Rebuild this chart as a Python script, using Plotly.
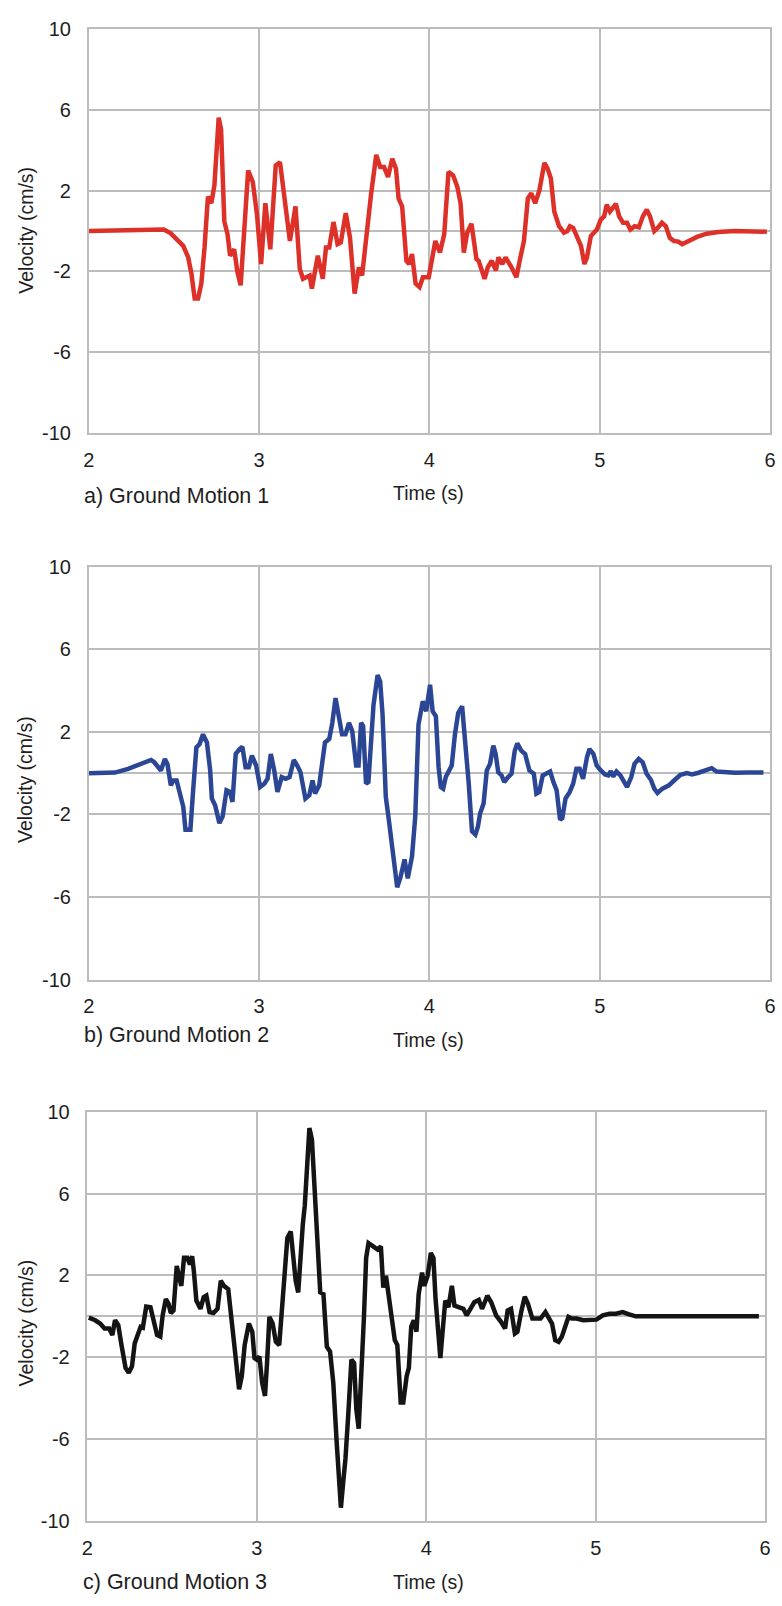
import plotly.graph_objects as go

W, H = 782, 1606

# ---------------- data ----------------
t1 = [2.0, 2.1, 2.2, 2.3, 2.38, 2.44, 2.48, 2.52, 2.555, 2.584, 2.603, 2.622, 2.642, 2.661, 2.68, 2.70,
      2.72, 2.738, 2.763, 2.777, 2.796, 2.815, 2.83, 2.854, 2.873, 2.892, 2.911, 2.936, 2.963, 2.988,
      3.012, 3.037, 3.066, 3.098, 3.123, 3.152, 3.181, 3.214, 3.239, 3.258, 3.297, 3.31, 3.345, 3.374,
      3.393, 3.412, 3.437, 3.461, 3.48, 3.509, 3.534, 3.561, 3.586, 3.605, 3.634, 3.657, 3.688, 3.711,
      3.734, 3.757, 3.782, 3.804, 3.819, 3.84, 3.865, 3.881, 3.898, 3.919, 3.942, 3.962, 3.996, 4.015,
      4.035, 4.062, 4.087, 4.112, 4.139, 4.164, 4.183, 4.202, 4.222, 4.247, 4.276, 4.289, 4.324, 4.343,
      4.366, 4.39, 4.405, 4.428, 4.447, 4.482, 4.511, 4.53, 4.555, 4.578, 4.598, 4.621, 4.646, 4.675,
      4.694, 4.713, 4.733, 4.761, 4.79, 4.81, 4.825, 4.844, 4.867, 4.89, 4.91, 4.925, 4.948, 4.983,
      5.006, 5.026, 5.041, 5.06, 5.076, 5.095, 5.114, 5.137, 5.16, 5.18, 5.205, 5.23, 5.253, 5.276,
      5.295, 5.32, 5.34, 5.365, 5.388, 5.411, 5.436, 5.461, 5.484, 5.523, 5.571, 5.628, 5.696, 5.792,
      5.889, 5.981]
v1 = [0.0, 0.02, 0.05, 0.1, 0.12, 0.08, -0.1, -0.4, -0.73, -1.30, -2.11, -3.34, -3.34, -2.6, -0.81, 1.71,
      1.38, 2.27, 5.61, 5.04, 0.49, -0.16, -1.22, -0.9, -2.03, -2.68, -0.16, 3.0, 2.44, 0.81,
      -1.63, 1.38, -0.9, 3.25, 3.41, 1.46, -0.49, 1.22, -1.87, -2.36, -2.2, -2.85, -1.22, -2.36,
      -0.81, -0.81, 0.45, -0.65, -0.57, 0.89, -0.33, -3.09, -1.79, -2.2, 0.32, 1.79, 3.77, 3.17,
      3.17, 2.68, 3.58, 3.09, 1.62, 1.22, -1.47, -1.63, -1.14, -2.6, -2.77, -2.28, -2.28, -1.47,
      -0.49, -1.06, -0.16, 2.93, 2.76, 2.19, 1.38, -1.06, -0.08, 0.36, -1.38, -1.47, -2.36, -1.79,
      -1.47, -1.95, -1.3, -1.63, -1.3, -1.79, -2.28, -1.47, -0.49, 1.62, 1.87, 1.38, 2.03, 3.38,
      3.09, 2.6, 0.97, 0.24, -0.08, 0.0, 0.24, 0.16, -0.33, -0.73, -1.63, -1.3, -0.24, 0.08,
      0.57, 0.73, 1.3, 0.97, 1.14, 1.35, 0.73, 0.41, 0.41, 0.08, 0.24, 0.19, 0.73, 1.06,
      0.73, 0.0, 0.16, 0.41, 0.24, -0.33, -0.49, -0.52, -0.65, -0.49, -0.29, -0.13, -0.05, 0.0,
      0.0, -0.03]

t2 = [2.0, 2.154, 2.231, 2.308, 2.366, 2.385, 2.405, 2.424, 2.447, 2.462, 2.482, 2.497, 2.516, 2.536,
      2.555, 2.568, 2.597, 2.613, 2.632, 2.651, 2.671, 2.694, 2.713, 2.723, 2.742, 2.767, 2.786, 2.809,
      2.829, 2.844, 2.863, 2.886, 2.902, 2.921, 2.94, 2.958, 2.983, 3.006, 3.031, 3.05, 3.069, 3.089,
      3.108, 3.133, 3.156, 3.179, 3.204, 3.224, 3.243, 3.272, 3.295, 3.314, 3.329, 3.353, 3.372, 3.387,
      3.412, 3.43, 3.449, 3.468, 3.487, 3.507, 3.528, 3.547, 3.57, 3.584, 3.599, 3.611, 3.628, 3.642,
      3.657, 3.672, 3.696, 3.711, 3.725, 3.744, 3.763, 3.782, 3.802, 3.811, 3.83, 3.854, 3.873, 3.898,
      3.917, 3.936, 3.961, 3.981, 4.004, 4.019, 4.038, 4.054, 4.067, 4.081, 4.096, 4.115, 4.131, 4.15,
      4.169, 4.192, 4.212, 4.231, 4.25, 4.27, 4.285, 4.298, 4.318, 4.337, 4.356, 4.375, 4.389, 4.404,
      4.424, 4.439, 4.462, 4.482, 4.501, 4.516, 4.539, 4.562, 4.587, 4.613, 4.628, 4.645, 4.665, 4.684,
      4.709, 4.728, 4.747, 4.767, 4.78, 4.799, 4.824, 4.844, 4.863, 4.882, 4.902, 4.925, 4.94, 4.963,
      4.982, 5.006, 5.031, 5.05, 5.065, 5.079, 5.098, 5.121, 5.14, 5.16, 5.185, 5.204, 5.229, 5.252,
      5.275, 5.3, 5.32, 5.339, 5.368, 5.406, 5.441, 5.474, 5.512, 5.541, 5.58, 5.618, 5.657, 5.686,
      5.734, 5.792, 5.869, 5.961]
v2 = [0.0, 0.03, 0.21, 0.45, 0.64, 0.53, 0.29, 0.13, 0.69, 0.45, -0.59, -0.35, -0.35, -0.91,
      -1.63, -2.74, -2.74, -0.83, 1.24, 1.41, 1.88, 1.49, 0.13, -1.23, -1.55, -2.42, -2.10, -0.83,
      -0.91, -1.39, 0.93, 1.17, 1.28, 0.29, 0.29, 0.85, 0.37, -0.67, -0.51, -0.27, 0.93, 0.13,
      -0.91, -0.19, -0.27, -0.19, 0.64, 0.37, 0.05, -1.23, -1.07, -0.35, -0.99, -0.59, 0.53, 1.49,
      1.65, 2.44, 3.64, 2.84, 1.88, 1.88, 2.44, 2.04, 0.37, 0.37, 2.44, 2.28, -0.51, -0.43,
      1.57, 3.32, 4.75, 4.44, 2.84, -1.15, -2.34, -3.7, -5.13, -5.53, -5.05, -4.18, -5.1, -4.02,
      -2.10, 2.36, 3.48, 3.0, 4.28, 3.0, 2.76, 0.29, -0.67, -0.75, -0.19, 0.13, 0.37, 1.88,
      2.92, 3.24, 1.57, -0.51, -2.82, -2.98, -2.58, -1.94, -1.47, 0.13, 0.45, 1.33, 0.93, 0.05,
      -0.11, -0.43, -0.19, -0.03, 1.09, 1.44, 1.09, 0.93, 0.13, -0.03, -0.99, -0.91, -0.11, -0.03,
      0.08, -0.43, -0.83, -2.26, -2.18, -1.23, -0.91, -0.51, 0.21, 0.21, -0.27, 0.77, 1.17, 0.93,
      0.37, 0.13, -0.06, -0.11, 0.1, -0.16, 0.08, -0.11, -0.43, -0.67, -0.19, 0.45, 0.69, 0.53,
      -0.03, -0.32, -0.75, -0.96, -0.75, -0.59, -0.32, -0.08, 0.0, -0.06, 0.02, 0.13, 0.24, 0.08,
      0.05, 0.02, 0.03, 0.03]

t3 = [2.008, 2.046, 2.075, 2.101, 2.128, 2.147, 2.163, 2.182, 2.201, 2.225, 2.244, 2.263, 2.279, 2.298,
      2.314, 2.327, 2.347, 2.372, 2.391, 2.411, 2.43, 2.444, 2.463, 2.479, 2.492, 2.508, 2.527, 2.541,
      2.554, 2.57, 2.589, 2.605, 2.618, 2.628, 2.643, 2.667, 2.686, 2.702, 2.721, 2.744, 2.768, 2.787,
      2.806, 2.831, 2.851, 2.87, 2.895, 2.911, 2.928, 2.953, 2.973, 2.986, 3.0, 3.015, 3.031, 3.048,
      3.06, 3.074, 3.093, 3.112, 3.132, 3.151, 3.167, 3.18, 3.2, 3.213, 3.229, 3.244, 3.258, 3.271,
      3.283, 3.296, 3.31, 3.325, 3.341, 3.36, 3.374, 3.393, 3.413, 3.432, 3.451, 3.471, 3.484, 3.496,
      3.51, 3.523, 3.539, 3.558, 3.574, 3.587, 3.601, 3.616, 3.632, 3.645, 3.659, 3.678, 3.698, 3.713,
      3.732, 3.746, 3.762, 3.775, 3.795, 3.814, 3.829, 3.849, 3.864, 3.884, 3.897, 3.911, 3.926, 3.942,
      3.955, 3.975, 3.988, 4.008, 4.027, 4.042, 4.054, 4.069, 4.083, 4.097, 4.112, 4.131, 4.151, 4.166,
      4.19, 4.219, 4.238, 4.257, 4.283, 4.31, 4.329, 4.345, 4.36, 4.383, 4.412, 4.441, 4.465, 4.48,
      4.5, 4.523, 4.538, 4.562, 4.581, 4.6, 4.626, 4.651, 4.674, 4.703, 4.722, 4.742, 4.761, 4.781,
      4.8, 4.82, 4.839, 4.858, 4.887, 4.926, 4.965, 5.004, 5.042, 5.081, 5.12, 5.159, 5.197, 5.236,
      5.314, 5.507, 5.701, 5.963]
v3 = [-0.06, -0.19, -0.35, -0.59, -0.59, -0.91, -0.19, -0.43, -1.4, -2.52, -2.76, -2.44, -1.32, -0.84,
      -0.51, -0.55, 0.48, 0.45, -0.19, -0.91, -0.99, 0.05, 0.85, 0.61, 0.16, 0.29, 2.46, 1.9,
      1.49, 2.86, 2.86, 2.54, 2.94, 2.22, 0.77, 0.37, 0.93, 1.01, 0.21, 0.16, 0.37, 1.74,
      1.49, 1.33, -0.03, -1.64, -3.56, -2.92, -1.4, -0.35, -0.75, -2.04, -2.12, -1.96, -3.24, -3.89,
      -2.28, -0.03, -0.35, -1.24, -1.4, 0.53, 2.06, 3.83, 4.15, 3.02, 1.74, 1.17, 3.18, 4.47,
      5.43, 7.68, 9.2, 8.64, 6.07, 2.86, 1.17, 1.09, -1.48, -1.72, -3.24, -6.14, -8.06, -9.35,
      -8.06, -6.94, -4.85, -2.12, -2.28, -4.53, -5.49, -3.24, -0.03, 2.86, 3.58, 3.47, 3.37, 3.26,
      3.42, 1.41, 1.98, 1.17, 0.13, -1.16, -1.4, -4.21, -4.21, -2.92, -2.52, -0.51, -0.19, -0.75,
      1.09, 2.14, 1.49, 1.98, 3.1, 2.86, 0.93, -0.99, -2.04, -0.67, 0.77, 0.45, 1.49, 0.53,
      0.45, 0.37, 0.05, 0.37, 0.69, 0.8, 0.37, 0.69, 1.01, 0.69, 0.05, -0.27, -0.59, 0.29,
      0.37, -0.84, -0.75, 0.29, 0.96, 0.61, -0.11, -0.11, -0.11, 0.21, -0.03, -0.35, -1.16, -1.24,
      -0.99, -0.51, -0.03, -0.11, -0.11, -0.19, -0.19, -0.16, 0.05, 0.13, 0.13, 0.21, 0.1, 0.0,
      0.0, 0.0, 0.0, 0.0]

x_ticks = [2, 3, 4, 5, 6]
x_ticklabels = ["2", "3", "4", "5", "6"]
y_ticks = [-10, -6, -2, 2, 6, 10]
y_ticklabels = ["-10", "-6", "-2", "2", "6", "10"]
captions = ["a) Ground Motion 1", "b) Ground Motion 2", "c) Ground Motion 3"]
x_title = "Time (s)"
y_title = "Velocity (cm/s)"
colors = ["#dd3029", "#2c4696", "#141414"]

# ---------------- layout geometry (pixels) ----------------
panels = [
    dict(x0=84, x1=776, y0=18.3, y1=428, cap_y=492, xt_y=489, yt_y=222),
    dict(x0=84, x1=776, y0=563.5, y1=982, cap_y=1038, xt_y=1043, yt_y=779),
    dict(x0=82.7, x1=771, y0=1116, y1=1531, cap_y=1593, xt_y=1593, yt_y=1330),
]

FONT = "Liberation Sans, Arial, Helvetica, sans-serif"
GRID = "#bcbcbc"
TXT = "#1e1e1e"

fig = go.Figure()
series = [(t1, v1), (t2, v2), (t3, v3)]
layout = dict(width=W, height=H, margin=dict(l=0, r=0, t=0, b=0),
              paper_bgcolor="white", plot_bgcolor="white", showlegend=False,
              font=dict(family=FONT, color=TXT, size=18))
annotations = []
for i, ((t, v), p) in enumerate(zip(series, panels)):
    n = "" if i == 0 else str(i + 1)
    fig.add_trace(go.Scatter(x=t, y=v, mode="lines", name=captions[i],
                             line=dict(color=colors[i], width=4.5),
                             xaxis="x" + n, yaxis="y" + n))
    layout["xaxis" + n] = dict(domain=[p["x0"] / W, p["x1"] / W], range=[2, 6],
                               tickvals=x_ticks, ticktext=x_ticklabels,
                               showgrid=True, gridcolor=GRID, gridwidth=1.5,
                               showline=True, linecolor=GRID, linewidth=1.5, mirror=True,
                               zeroline=False, ticks="", ticklabelstandoff=8,
                               tickfont=dict(size=20, color=TXT),
                               anchor="y" + n, fixedrange=True)
    layout["yaxis" + n] = dict(domain=[1 - p["y1"] / H, 1 - p["y0"] / H], range=[-10, 10],
                               tickvals=y_ticks, ticktext=y_ticklabels,
                               showgrid=True, gridcolor=GRID, gridwidth=1.5,
                               showline=True, linecolor=GRID, linewidth=1.5, mirror=True,
                               zeroline=True, zerolinecolor=GRID, zerolinewidth=1.5,
                               ticks="", ticklabelstandoff=12,
                               tickfont=dict(size=20, color=TXT),
                               anchor="x" + n, fixedrange=True)
    annotations.append(dict(text=captions[i], xref="paper", yref="paper",
                            x=(p["x0"] - 7) / W, y=1 - p["cap_y"] / H, xanchor="left", yanchor="middle",
                            showarrow=False, font=dict(size=21.5, color=TXT)))
    annotations.append(dict(text=x_title, xref="paper", yref="paper",
                            x=429 / W, y=1 - p["xt_y"] / H, xanchor="center", yanchor="middle",
                            showarrow=False, font=dict(size=19.5, color=TXT)))
    annotations.append(dict(text=y_title, xref="paper", yref="paper", textangle=-90,
                            x=20 / W, y=1 - p["yt_y"] / H, xanchor="center", yanchor="middle",
                            showarrow=False, font=dict(size=19.5, color=TXT)))
layout["annotations"] = annotations
fig.update_layout(**layout)
fig.write_html("out.html")
